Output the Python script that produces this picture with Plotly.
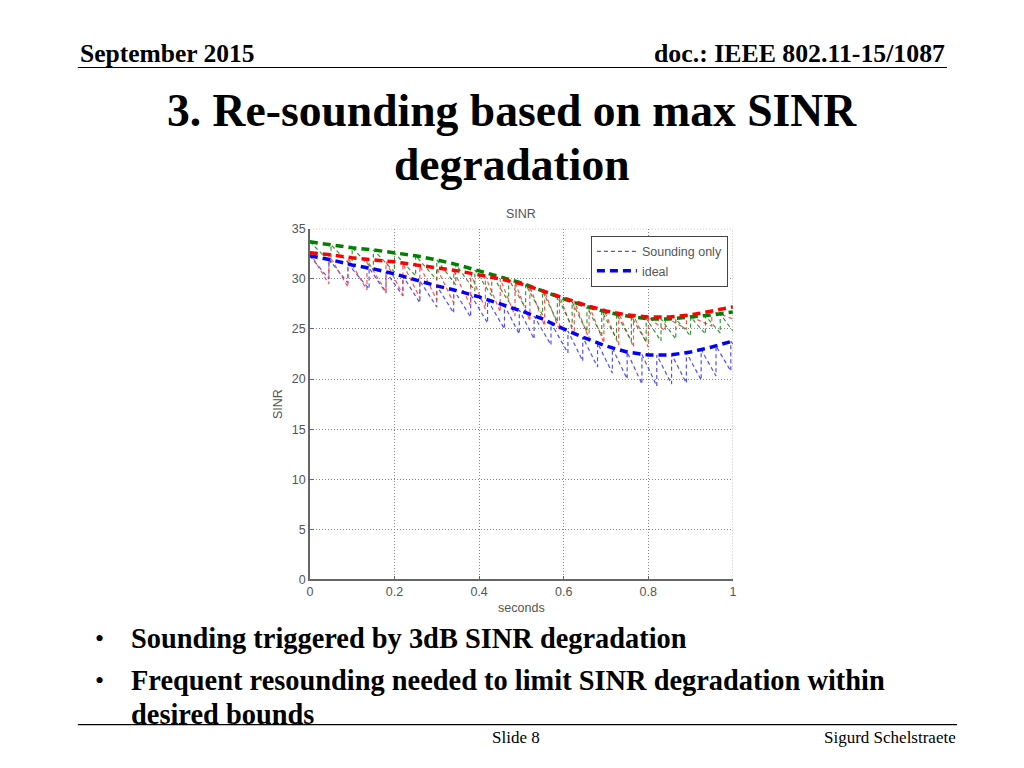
import plotly.graph_objects as go

W, H = 1024, 768

# ---------------- data ----------------
ideal_t = [0.0, 0.05, 0.1, 0.15, 0.2, 0.25, 0.3, 0.35, 0.4, 0.45, 0.5,
           0.55, 0.6, 0.65, 0.7, 0.75, 0.8, 0.85, 0.9, 0.95, 1.0]
ideal_blue = [32.3, 31.9, 31.4, 31.0, 30.5, 29.9, 29.3, 28.8, 28.2, 27.5, 26.8,
              26.0, 25.0, 24.1, 23.3, 22.7, 22.4, 22.4, 22.7, 23.2, 23.8]
ideal_red = [32.6, 32.4, 32.1, 31.9, 31.7, 31.4, 31.1, 30.8, 30.4, 30.0, 29.5,
             28.8, 28.1, 27.4, 26.8, 26.4, 26.2, 26.2, 26.4, 26.8, 27.2]
ideal_green = [33.7, 33.4, 33.1, 32.9, 32.6, 32.3, 31.9, 31.4, 30.8, 30.2, 29.6,
               28.8, 28.0, 27.3, 26.7, 26.3, 26.0, 26.0, 26.2, 26.4, 26.7]

# sounding-only: sounding instants, value at sounding, value just before next sounding
blue_t = [0.0, 0.045, 0.09, 0.14, 0.18, 0.22, 0.26, 0.30, 0.34, 0.38, 0.42, 0.46, 0.495,
          0.53, 0.57, 0.61, 0.645, 0.68, 0.715, 0.75, 0.785, 0.82, 0.855, 0.89, 0.925, 0.96, 0.995]
blue_peak = [32.3, 31.95, 31.5, 31.1, 30.7, 30.3, 29.8, 29.3, 28.9, 28.45, 27.9, 27.35, 26.9,
             26.3, 25.6, 24.8, 24.2, 23.6, 23.1, 22.7, 22.45, 22.4, 22.45, 22.65, 22.95, 23.3, 23.75]
blue_trough = [30.0, 29.6, 29.0, 28.6, 28.3, 27.6, 27.2, 26.6, 26.2, 25.6, 25.0, 24.5, 24.0,
               23.4, 22.6, 21.8, 21.2, 20.6, 20.0, 19.5, 19.3, 19.5, 19.6, 19.9, 20.3, 20.8, 23.5]

red_t = [0.0, 0.045, 0.09, 0.135, 0.18, 0.22, 0.26, 0.30, 0.34, 0.38, 0.415, 0.45, 0.485,
         0.52, 0.555, 0.59, 0.625, 0.66, 0.695, 0.73, 0.765, 0.80, 0.84, 0.89, 0.95]
red_peak = [32.6, 32.4, 32.1, 31.9, 31.7, 31.5, 31.3, 31.1, 30.8, 30.5, 30.25, 30.0, 29.65,
            29.25, 28.75, 28.3, 27.8, 27.35, 26.95, 26.6, 26.35, 26.2, 26.2, 26.4, 26.8]
red_trough = [29.5, 29.2, 28.9, 28.7, 28.4, 28.1, 27.9, 27.6, 27.3, 27.0, 26.7, 26.3, 25.8,
              25.3, 24.9, 24.4, 24.0, 23.6, 23.4, 23.2, 23.2, 24.8, 25.0, 25.3, 26.0]

green_t = [0.0, 0.05, 0.1, 0.15, 0.2, 0.25, 0.3, 0.345, 0.39, 0.43, 0.47, 0.51, 0.55,
           0.585, 0.62, 0.655, 0.69, 0.725, 0.76, 0.795, 0.83, 0.865, 0.9, 0.935, 0.97]
green_peak = [33.7, 33.4, 33.1, 32.9, 32.6, 32.3, 31.9, 31.45, 30.9, 30.45, 29.95, 29.45, 28.8,
              28.25, 27.7, 27.2, 26.8, 26.5, 26.25, 26.05, 26.0, 26.0, 26.2, 26.3, 26.5]
green_trough = [31.6, 31.2, 30.9, 30.7, 30.3, 29.9, 29.4, 28.8, 28.3, 27.7, 27.1, 26.4, 25.7,
                25.2, 24.7, 24.3, 24.0, 23.8, 23.7, 23.8, 24.0, 24.3, 24.5, 24.6, 24.8]

x_ticks = [0, 0.2, 0.4, 0.6, 0.8, 1]
x_tick_labels = ["0", "0.2", "0.4", "0.6", "0.8", "1"]
y_ticks = [0, 5, 10, 15, 20, 25, 30, 35]

bullet_lines = ["Sounding triggered by 3dB SINR degradation",
                "Frequent resounding needed to limit SINR degradation within",
                "desired bounds"]


def sawtooth(ts, peaks, troughs, t_end=1.0):
    xs, ys = [], []
    for i, t in enumerate(ts):
        nxt = ts[i + 1] if i + 1 < len(ts) else t_end
        xs += [t, nxt]
        ys += [peaks[i], troughs[i]]
    return xs, ys


# compensation for the observed page->screenshot mapping
AX, BX, AY, BY = 3.2, 0.993, 7.6, 0.98


def fx(o):
    return (o - AX) / BX


def fy(o):
    return (o - AY) / BY


def px(o):
    return fx(o) / W


def py(o):
    return 1 - fy(o) / H


fig = go.Figure()

thin = [("blue", blue_t, blue_peak, blue_trough, "rgba(60,60,255,0.9)"),
        ("red", red_t, red_peak, red_trough, "rgba(255,60,60,0.9)"),
        ("green", green_t, green_peak, green_trough, "rgba(20,135,20,0.85)")]
for name, ts, pk, tr, col in thin:
    xs, ys = sawtooth(ts, pk, tr)
    fig.add_trace(go.Scatter(x=xs, y=ys, mode="lines",
                             line=dict(color=col, width=1.2, dash="4px,3px"),
                             name="Sounding only", showlegend=(name == "blue"),
                             legendrank=1))

thick = [("blue", ideal_blue, "#0000ff"), ("green", ideal_green, "#008000"),
         ("red", ideal_red, "#ff0000")]
for name, vals, col in thick:
    fig.add_trace(go.Scatter(x=ideal_t, y=vals, mode="lines",
                             line=dict(color=col, width=3.5, dash="8px,5px"),
                             name="ideal", showlegend=(name == "blue"),
                             legendrank=2))

axis_col = "#555"
cfont = "Liberation Sans, Arial, sans-serif"
x0p, x1p, y0p, y1p = 310, 733, 229, 579
fig.update_layout(
    width=W, height=H,
    margin=dict(l=0, r=0, t=0, b=0),
    paper_bgcolor="white", plot_bgcolor="white",
    font=dict(family=cfont, size=12, color=axis_col),
    xaxis=dict(domain=[px(x0p), px(x1p)], range=[0, 1], tickvals=x_ticks,
               ticktext=x_tick_labels, showgrid=True, gridcolor="#888",
               griddash="1px,2px", gridwidth=1, showline=True, linecolor="#666",
               linewidth=1.5, ticks="inside", ticklen=4, tickcolor="#666",
               tickfont=dict(family=cfont, size=12.5, color=axis_col),
               zeroline=False, title=dict(text="seconds", standoff=5,
                                          font=dict(family=cfont, size=12.5, color=axis_col))),
    yaxis=dict(domain=[py(y1p), py(y0p)], range=[0, 35], tickvals=y_ticks,
               showgrid=True, gridcolor="#888", griddash="1px,2px", gridwidth=1,
               showline=True, linecolor="#666", linewidth=1.5, ticks="inside",
               ticklen=4, tickcolor="#666", zeroline=False,
               tickfont=dict(family=cfont, size=12.5, color=axis_col),
               title=dict(text="SINR", standoff=6, font=dict(family=cfont, size=12.5, color=axis_col))),
    legend=dict(x=px(728), xanchor="right", y=py(236), yanchor="top",
                bgcolor="white", bordercolor="#444", borderwidth=1,
                font=dict(family=cfont, size=12.5, color=axis_col), tracegroupgap=0,
                itemwidth=40),
    showlegend=True,
)

# right/top dotted borders
fig.add_shape(type="line", xref="x", yref="y", x0=1, x1=1, y0=0, y1=35,
              line=dict(color="#888", width=1, dash="1px,2px"))
fig.add_shape(type="line", xref="x", yref="y", x0=0, x1=1, y0=35, y1=35,
              line=dict(color="#888", width=1, dash="1px,2px"))

serif = "Liberation Serif, Times New Roman, serif"


def text(x, y, s, size, xanchor="left", bold=False, family=serif, color="black"):
    fig.add_annotation(x=px(x), y=py(y), xref="paper", yref="paper",
                       text=("<b>%s</b>" % s) if bold else s,
                       showarrow=False, xanchor=xanchor, yanchor="middle",
                       borderpad=0, font=dict(family=family, size=size, color=color),
                       align="left")


# chart title
text(521, 214, "SINR", 12.5, xanchor="center", family=cfont, color=axis_col)

# slide header
text(79, 54, "September 2015", 25.5, bold=True)
text(946, 54, "doc.: IEEE 802.11-15/1087", 25.8, xanchor="right", bold=True)
fig.add_shape(type="line", xref="paper", yref="paper", x0=px(78), x1=px(947),
              y0=py(68), y1=py(68), line=dict(color="black", width=1.2))

# slide title
text(512, 111, "3. Re-sounding based on max SINR", 45.6, xanchor="center", bold=True)
text(512, 165, "degradation", 45.6, xanchor="center", bold=True)

# bullets
text(94, 638, "•", 26)
text(130, 638, bullet_lines[0], 28.4, bold=True)
text(94, 680, "•", 26)
text(130, 680, bullet_lines[1], 28.4, bold=True)
text(130, 714, bullet_lines[2], 28.4, bold=True)

# footer
fig.add_shape(type="line", xref="paper", yref="paper", x0=px(78), x1=px(957),
              y0=py(724), y1=py(724), line=dict(color="black", width=1.2))
text(516, 737, "Slide 8", 17, xanchor="center")
text(957, 737, "Sigurd Schelstraete", 17, xanchor="right")

fig.write_html("out.html", config={"displayModeBar": False},
               post_script="document.body.style.margin='0';document.body.style.overflow='hidden';")
